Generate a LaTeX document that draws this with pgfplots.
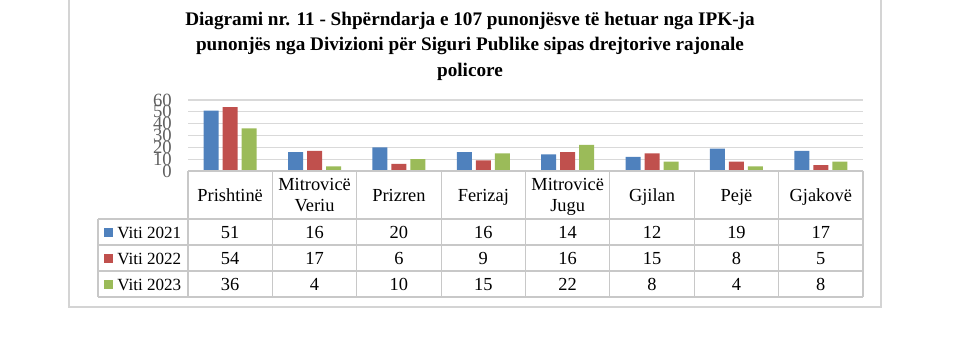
\documentclass[border=0pt]{standalone}
\usepackage{pgfplots}
\pgfplotsset{compat=1.18}
\usepackage{fontspec}
\setmainfont{Liberation Serif}
\definecolor{c1}{HTML}{4F81BD}
\definecolor{c2}{HTML}{C0504D}
\definecolor{c3}{HTML}{9BBB59}
\definecolor{gridc}{HTML}{D9D9D9}
\definecolor{tabc}{HTML}{C8C8C8}
\definecolor{framec}{HTML}{D4D4D4}
\definecolor{tickc}{HTML}{5F5F5F}
\begin{document}
\begin{tikzpicture}
\begin{scope}[x=0.75pt,y=-0.75pt,yshift=271.5pt]
\useasboundingbox (0,0) rectangle (980,362);
\draw[framec, line width=1.1pt] (69,-2) -- (69,307) -- (881,307) -- (881,-2);
\node[font=\fontsize{14.4}{19.2}\selectfont\bfseries, align=center] at (470,46)
  {Diagrami nr. 11 - Shpërndarja e 107 punonjësve të hetuar nga IPK-ja\\
   punonjës nga Divizioni për Siguri Publike sipas drejtorive rajonale\\
   policore};
\end{scope}
\begin{axis}[at={(141pt,143.25pt)}, anchor=south west, scale only axis,
  width=506.25pt, height=53.25pt,
  xmin=-0.5, xmax=7.5, ymin=0, ymax=60, ytick={0,10,...,60}, xtick=\empty,
  ymajorgrids, grid style={gridc, line width=0.8pt},
  axis line style={draw=none}, major tick length=0pt,
  /pgf/number format/assume math mode=true,
  yticklabel style={font=\fontsize{14}{14}\selectfont, text=tickc, inner sep=0pt, anchor=east, xshift=-12pt},
  ybar=3pt, bar width=11.25pt, clip=false]
\addplot[fill=c1, draw=none] coordinates {(0,51) (1,16) (2,20) (3,16) (4,14) (5,12) (6,19) (7,17)};
\addplot[fill=c2, draw=none] coordinates {(0,54) (1,17) (2,6) (3,9) (4,16) (5,15) (6,8) (7,5)};
\addplot[fill=c3, draw=none] coordinates {(0,36) (1,4) (2,10) (3,15) (4,22) (5,8) (6,4) (7,8)};
\end{axis}
\begin{scope}[x=0.75pt,y=-0.75pt,yshift=271.5pt]
% data table
\begin{scope}[tabc, line width=0.8pt]
\draw (188,171) -- (863,171);
\foreach \yy in {219,245,271,297} \draw (98,\yy) -- (863,\yy);
\draw (98,219) -- (98,297);
\foreach \i in {0,...,8} \draw ({188+84.375*\i},171) -- ({188+84.375*\i},297);
\end{scope}
\begin{scope}[every node/.style={font=\fontsize{13.8}{15}\selectfont, inner sep=0pt, align=center}]
\node[anchor=base] at ({188+84.375*0.5},201) {Prishtinë};
\node[anchor=base] at ({188+84.375*1.5},190) {Mitrovicë};
\node[anchor=base] at ({188+84.375*1.5},211) {Veriu};
\node[anchor=base] at ({188+84.375*2.5},201) {Prizren};
\node[anchor=base] at ({188+84.375*3.5},201) {Ferizaj};
\node[anchor=base] at ({188+84.375*4.5},190) {Mitrovicë};
\node[anchor=base] at ({188+84.375*4.5},211) {Jugu};
\node[anchor=base] at ({188+84.375*5.5},201) {Gjilan};
\node[anchor=base] at ({188+84.375*6.5},201) {Pejë};
\node[anchor=base] at ({188+84.375*7.5},201) {Gjakovë};
\foreach [count=\i from 0] \v in {51,16,20,16,14,12,19,17}
  \node[anchor=base] at ({188+84.375*(\i+0.5)},238) {\v};
\foreach [count=\i from 0] \v in {54,17,6,9,16,15,8,5}
  \node[anchor=base] at ({188+84.375*(\i+0.5)},264) {\v};
\foreach [count=\i from 0] \v in {36,4,10,15,22,8,4,8}
  \node[anchor=base] at ({188+84.375*(\i+0.5)},290) {\v};
\end{scope}
\fill[c1] (104,228) rectangle (113,237);
\fill[c2] (104,254) rectangle (113,263);
\fill[c3] (104,280) rectangle (113,289);
\begin{scope}[every node/.style={font=\fontsize{12.8}{15}\selectfont, inner sep=0pt}]
\node[anchor=base west] at (117,238) {Viti 2021};
\node[anchor=base west] at (117,264) {Viti 2022};
\node[anchor=base west] at (117,290) {Viti 2023};
\end{scope}
\end{scope}
\end{tikzpicture}
\end{document}
